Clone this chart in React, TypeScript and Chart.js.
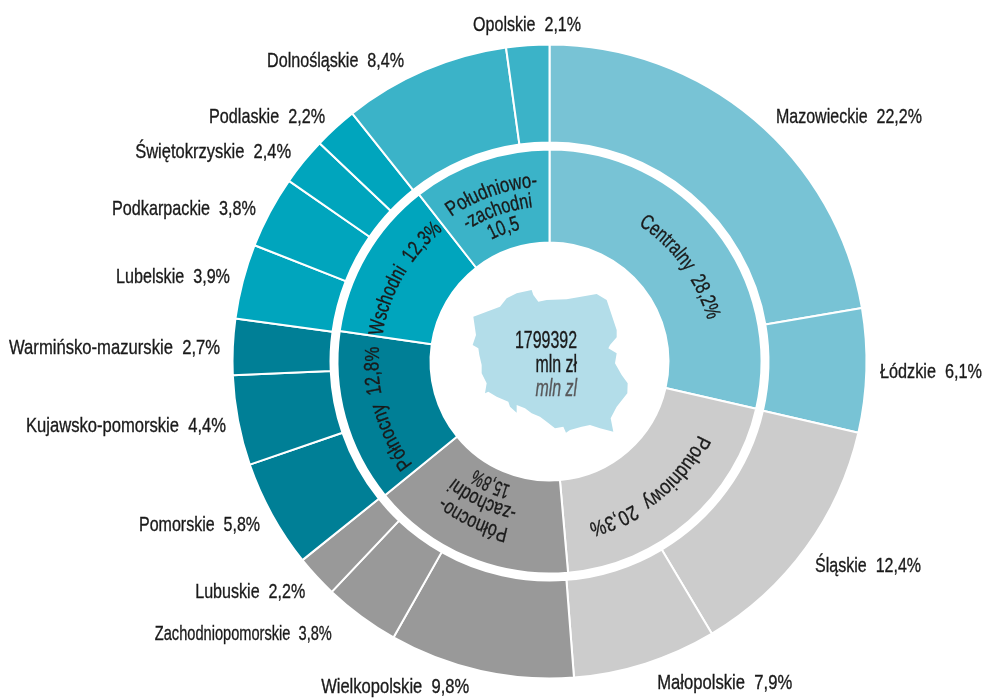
import React, { useEffect, useRef } from "react";
import { Chart, registerables } from "chart.js";

Chart.register(...registerables);

const regions = [
  "Mazowieckie", "Łódzkie", "Śląskie", "Małopolskie", "Wielkopolskie", "Zachodniopomorskie",
  "Lubuskie", "Pomorskie", "Kujawsko-pomorskie", "Warmińsko-mazurskie", "Lubelskie",
  "Podkarpackie", "Świętokrzyskie", "Podlaskie", "Dolnośląskie", "Opolskie",
];
// values as printed on the labels
const regionValues = [22.2, 6.1, 12.4, 7.9, 9.8, 3.8, 2.2, 5.8, 4.4, 2.7, 3.9, 3.8, 2.4, 2.2, 8.4, 2.1];
// shares as measured from the slices in the picture
const regionSlices = [22.3, 6.3, 12.83, 7.33, 9.42, 3.86, 2.17, 5.5, 4.58, 2.86, 3.81, 3.67, 2.44, 2.22, 8.5, 2.19];
const regionColors = [
  "#78c3d5", "#78c3d5", "#cccccc", "#cccccc", "#999999", "#999999", "#999999", "#007f96",
  "#007f96", "#007f96", "#00a5bd", "#00a5bd", "#00a5bd", "#00a5bd", "#3bb3c8", "#3bb3c8",
];
const macroLabels = ["Centralny", "Południowy", "Północno-zachodni", "Północny", "Wschodni", "Południowo-zachodni"];
const macroSlices = [28.58, 20.03, 15.53, 13.17, 12.14, 10.56];
const macroColors = ["#78c3d5", "#cccccc", "#999999", "#007f96", "#00a5bd", "#3bb3c8"];
const centerLines = ["1799392", "mln zł", "mln zl"];

// text offset from the middle of each outer arc: [dx, dy]
const labelOffsets = [
  [22.7, -3], [14.6, 1.4], [10.2, 18.3], [12, 20.3], [-11.8, 17], [-30, 18], [-12.1, 16.3], [-12.8, 10.8],
  [-13, 5.6], [-13.8, 1], [-13.8, -4.5], [-14.8, -3.7], [-13.2, -10.2], [-11, -11.5], [-21, -10], [-0.7, -21.3],
];
const labelAligns = [
  "left", "left", "left", "left", "right", "right", "right", "right",
  "right", "right", "right", "right", "right", "right", "right", "center",
];
const labelWidths = [146, 102, 106, 135, 148, 177, 110, 121, 200, 211, 114, 144, 156, 116, 137, 108];
// curved labels of the inner ring: lines with their baseline radius and stretch
const macroText = [
  { lines: ["Centralny  28,2%"], radii: [163], stretch: [0.98], shift: 0.049 },
  { lines: ["Południowy  20,3%"], radii: [166], stretch: [1.07], shift: 0.042 },
  { lines: ["Północno-", "-zachodni", "15,8%"], radii: [172, 150, 130], stretch: [1, 1, 0.85], shift: 0.05 },
  { lines: ["Północny  12,8%"], radii: [171], stretch: [1.04], shift: -0.01 },
  { lines: ["Wschodni  12,3%"], radii: [169], stretch: [1], shift: -0.005 },
  { lines: ["Południowo-", "-zachodni", "10,5"], radii: [175, 155, 135], stretch: [1.05, 1, 1], shift: 0 },
];
// outline of the map, in pixels relative to the chart's centre
const mapOutline = [
  [220, 200], [260, 185], [300, 170], [320, 145], [350, 130], [395, 120], [400, 135], [415, 155], [440, 150],
  [500, 148], [590, 132], [620, 150], [635, 195], [650, 240], [650, 262], [630, 285], [625, 295], [650, 310],
  [645, 340], [665, 375], [683, 400], [682, 430], [650, 470], [632, 505], [640, 545], [600, 535], [570, 525],
  [545, 530], [510, 540], [498, 548], [490, 530], [465, 535], [440, 515], [420, 500], [395, 490], [375, 475],
  [350, 465], [350, 488], [330, 470], [325, 455], [290, 440], [265, 425], [255, 430], [260, 400], [245, 370],
  [245, 345], [238, 315], [235, 295], [218, 285], [228, 255],
];

const FONT = '"Liberation Sans", sans-serif';
const SIZE = 21;
const HS = 0.762;

function straight(
  ctx: CanvasRenderingContext2D, text: string, x: number, y: number, align: string,
  base = "middle", hs = HS, stroke = true,
) {
  ctx.save();
  ctx.translate(x, y);
  ctx.scale(hs, 1);
  ctx.textAlign = align as CanvasTextAlign;
  ctx.textBaseline = base as CanvasTextBaseline;
  ctx.fillText(text, 0, 0);
  if (stroke) {
    ctx.lineWidth = 0.35;
    ctx.strokeStyle = ctx.fillStyle;
    ctx.strokeText(text, 0, 0);
  }
  ctx.restore();
}

function curved(ctx: CanvasRenderingContext2D, text: string, cx: number, cy: number, r: number, mid: number, k: number) {
  const hs = HS * k;
  const total = ctx.measureText(text).width * hs;
  ctx.textAlign = "left";
  ctx.textBaseline = "alphabetic";
  ctx.lineWidth = 0.35;
  ctx.strokeStyle = ctx.fillStyle;
  for (let i = 0; i < text.length; i++) {
    const before = ctx.measureText(text.slice(0, i)).width * hs;
    const a = mid + (before - total / 2) / r;
    ctx.save();
    ctx.translate(cx + r * Math.cos(a), cy + r * Math.sin(a));
    ctx.rotate(a + Math.PI / 2);
    ctx.scale(hs, 1);
    ctx.fillText(text[i], 0, 0);
    ctx.strokeText(text[i], 0, 0);
    ctx.restore();
  }
}

const decorations = {
  id: "decorations",
  beforeDatasetsDraw(chart: any) {
    const arc = chart.getDatasetMeta(0).data[0];
    const ctx = chart.ctx;
    ctx.save();
    ctx.fillStyle = "#b3dde9";
    ctx.beginPath();
    mapOutline.forEach(([px, py], i) => {
      const x = arc.x + (400 + px / 3 - 549.5);
      const y = arc.y + (250 + py / 3 - 361.5);
      if (i) ctx.lineTo(x, y);
      else ctx.moveTo(x, y);
    });
    ctx.closePath();
    ctx.fill();
    ctx.restore();
  },
  afterDatasetsDraw(chart: any) {
    const ctx = chart.ctx;
    const outer = chart.getDatasetMeta(0).data;
    const inner = chart.getDatasetMeta(2).data;
    const cx = outer[0].x;
    const cy = outer[0].y;
    ctx.save();
    ctx.font = `${SIZE}px ${FONT}`;
    ctx.fillStyle = "#1a1a1a";
    outer.forEach((a: any, i: number) => {
      const mid = (a.startAngle + a.endAngle) / 2;
      const r = a.outerRadius - 1;
      const x = cx + r * Math.cos(mid) + labelOffsets[i][0];
      const y = cy + r * Math.sin(mid) + labelOffsets[i][1];
      const text = `${regions[i]}  ${regionValues[i].toFixed(1).replace(".", ",")}%`;
      straight(ctx, text, x, y, labelAligns[i], "middle", labelWidths[i] / ctx.measureText(text).width);
    });
    inner.forEach((a: any, i: number) => {
      const t = macroText[i];
      const mid = (a.startAngle + a.endAngle) / 2 + t.shift;
      t.lines.forEach((line, j) => curved(ctx, line, cx, cy, t.radii[j], mid, t.stretch[j]));
    });
    const rx = cx + 27.5;
    ctx.font = `23px ${FONT}`;
    const w = ctx.measureText(centerLines[0]).width;
    straight(ctx, centerLines[0], rx, cy - 13.5, "right", "alphabetic", 62 / w);
    straight(ctx, centerLines[1], rx, cy + 10.5, "right", "alphabetic", 62 / w);
    ctx.font = `italic 23px ${FONT}`;
    ctx.fillStyle = "#58585a";
    straight(ctx, centerLines[2], rx, cy + 34.5, "right", "alphabetic", 62 / w);
    ctx.restore();
  },
};

export default function App() {
  const ref = useRef<HTMLCanvasElement>(null);
  useEffect(() => {
    document.body.style.background = "#fff";
    const chart = new Chart(ref.current!, {
      type: "doughnut",
      data: {
        labels: regions,
        datasets: [
          { label: "Województwa", data: regionSlices, backgroundColor: regionColors, borderColor: "#fff", borderWidth: 2, weight: 98 },
          { label: "odstęp", data: [1], backgroundColor: "rgba(0,0,0,0)", borderWidth: 0, weight: 7 },
          { label: macroLabels.join(", "), data: macroSlices, backgroundColor: macroColors, borderColor: "#fff", borderWidth: 2, weight: 93 },
        ] as any,
      },
      options: {
        responsive: false,
        animation: false,
        cutout: 119,
        layout: { padding: { left: 231.5, right: 116.5, top: 43.5, bottom: 19.5 } },
        plugins: { legend: { display: false }, tooltip: { enabled: false } },
      } as any,
      plugins: [decorations],
    });
    return () => chart.destroy();
  }, []);
  return (
    <div style={{ position: "absolute", left: 0, top: 0, width: 984, height: 699, background: "#fff" }}>
      <canvas ref={ref} width={984} height={699} style={{ display: "block" }} />
    </div>
  );
}
